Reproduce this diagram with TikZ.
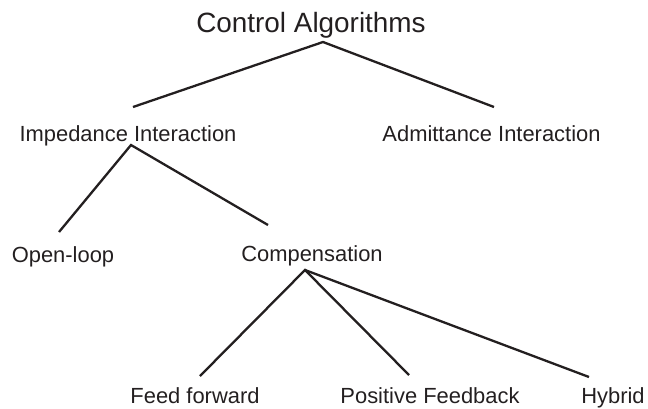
\documentclass[tikz,border=0pt]{standalone}
\usepackage{fontspec}
\setmainfont{Liberation Sans}
\usepackage{xcolor}
\usepackage{tikz}
\usetikzlibrary{calc}
\definecolor{ink}{HTML}{231F20}

\begin{document}
\begin{tikzpicture}[
    x=1bp, y=-1bp,
    label/.style={anchor=base, inner sep=0pt, text=ink, font=\fontsize{22}{26}\selectfont},
    title/.style={label, font=\fontsize{28}{32}\selectfont},
    branch/.style={draw=ink, line width=2.3bp}
]
\useasboundingbox (0,0) rectangle (648,408);

% labels
\node[title] (ctrl) at (311,32) {Control Algorithms};
\node[label] (imp) at (128,141) {Impedance Interaction};
\node[label] (adm) at (491.5,141) {Admittance Interaction};
\node[label] (open) at (63,262) {Open-loop};
\node[label] (comp) at (312,261) {Compensation};
\node[label] (ff) at (195,403) {Feed forward};
\node[label] (pf) at (430,403) {Positive Feedback};
\node[label] (hyb) at (613,403) {Hybrid};

% fork points and line ends
\coordinate (ctrl-fork) at ([shift={(12,10)}]ctrl.base);
\coordinate (imp-fork) at ([shift={(3,4)}]imp.base);
\coordinate (comp-fork) at ([shift={(-7,9)}]comp.base);
\coordinate (imp-end) at ([shift={(5,-34)}]imp.base);
\coordinate (adm-end) at ([shift={(2.5,-34)}]adm.base);
\coordinate (open-end) at ([shift={(-4,-30)}]open.base);
\coordinate (comp-end) at ([shift={(-44,-36)}]comp.base);
\coordinate (ff-end) at ([shift={(5,-27)}]ff.base);
\coordinate (pf-end) at ([shift={(-21,-28)}]pf.base);
\coordinate (hyb-end) at ([shift={(-24,-26)}]hyb.base);

\draw[branch] (imp-end) -- (ctrl-fork) -- (adm-end);
\draw[branch] (open-end) -- (imp-fork) -- (comp-end);
\draw[branch] (ff-end) -- (comp-fork) -- (pf-end);
\draw[branch] (comp-fork) -- (hyb-end);
\end{tikzpicture}
\end{document}
